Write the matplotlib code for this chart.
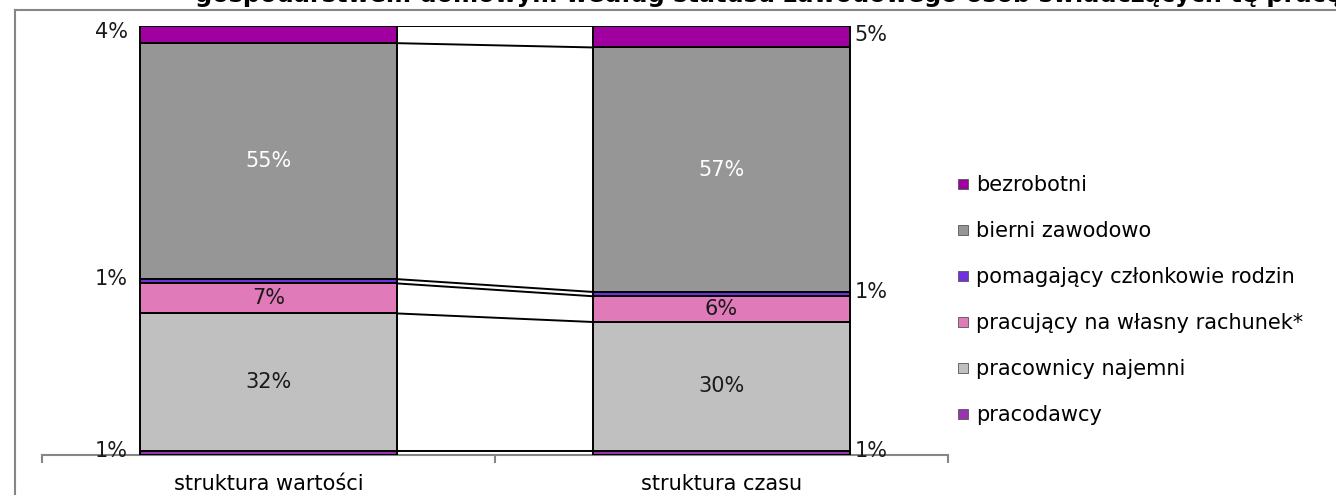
import matplotlib
matplotlib.use("Agg")
from matplotlib import pyplot as plt
from matplotlib.lines import Line2D

# structure by employment status, in %
categories = ['struktura wartości', 'struktura czasu']
series = ['pracodawcy', 'pracownicy najemni', 'pracujący na własny rachunek*',
          'pomagający członkowie rodzin', 'bierni zawodowo', 'bezrobotni']
wartosc = [1, 32, 7, 1, 55, 4]
czas = [1, 30, 6, 1, 57, 5]
colors = ['#9933B0', '#C0C0C0', '#E07AB8', '#7030E0', '#969696', '#A0009F']
text_colors = ['#1a1a1a', '#1a1a1a', '#1a1a1a', '#1a1a1a', 'white', '#1a1a1a']
title = 'gospodarstwem domowym według statusu zawodowego osób świadczących tę pracę'

W, H = 1336, 495
FS = 15
fig = plt.figure(figsize=(W / 100, H / 100), dpi=100)
ax = fig.add_axes([42 / W, 1 - 455 / H, (948 - 42) / W, (455 - 26) / H])

width = 0.566
x = [0, 1]
data = [wartosc, czas]
bottoms = [0, 0]
tops = []
for k, name in enumerate(series):
    vals = [data[0][k], data[1][k]]
    ax.bar(x, vals, width, bottom=bottoms, color=colors[k],
           edgecolor='black', linewidth=1.4, zorder=3)
    for i in range(2):
        v = vals[i]
        mid = bottoms[i] + v / 2
        if v >= 6:
            ax.text(x[i], mid, f'{v}%', ha='center', va='center',
                    fontsize=FS, color=text_colors[k], zorder=4)
        elif i == 0:
            ax.text(x[i] - width / 2 - 0.027, mid + 0.5, f'{v}%', ha='right',
                    va='center', fontsize=FS, color='#1a1a1a')
        else:
            ax.text(x[i] + width / 2 + 0.011, mid + 0.5, f'{v}%', ha='left',
                    va='center', fontsize=FS, color='#1a1a1a')
    bottoms = [bottoms[0] + vals[0], bottoms[1] + vals[1]]
    tops.append(list(bottoms))

# series lines between the stacks
for t in tops:
    ax.plot([x[0] + width / 2, x[1] - width / 2], t, color='black',
            linewidth=1.4, zorder=2)

ax.set_xlim(-0.5, 1.5)
ax.set_ylim(0, 100)
for s in ['top', 'right', 'left']:
    ax.spines[s].set_visible(False)
ax.spines['bottom'].set_color('#868686')
ax.spines['bottom'].set_linewidth(1.5)
ax.set_yticks([])
ax.set_xticks([-0.5, 0.5, 1.5])
ax.set_xticklabels([])
ax.set_xticks(x, minor=True)
ax.set_xticklabels(categories, minor=True, fontsize=FS)
ax.tick_params(axis='x', which='major', length=6, width=1.5, color='#868686')
ax.tick_params(axis='x', which='minor', length=0, pad=14)

handles = [Line2D([], [], linestyle='none', marker='s', markersize=7,
                  markerfacecolor=colors[k], markeredgecolor='#555555',
                  markeredgewidth=0.6) for k in range(len(series))]
fig.legend(handles[::-1], series[::-1], loc='center left',
           bbox_to_anchor=(947 / W, 1 - 300 / H), frameon=False,
           fontsize=FS, labelspacing=1.25, handlelength=0.7,
           handletextpad=0.3, borderaxespad=0)

# chart area border and clipped title
fig.add_artist(Line2D([15 / W, 1], [1 - 10 / H, 1 - 10 / H],
                      color='#868686', linewidth=1.5))
fig.add_artist(Line2D([15 / W, 15 / W], [0, 1 - 10 / H],
                      color='#868686', linewidth=1.5))
fig.text(195 / W, 1 - 2 / H, title, fontsize=17.3, fontweight='bold',
         va='baseline', ha='left')

fig.savefig('out.png', dpi=100)
